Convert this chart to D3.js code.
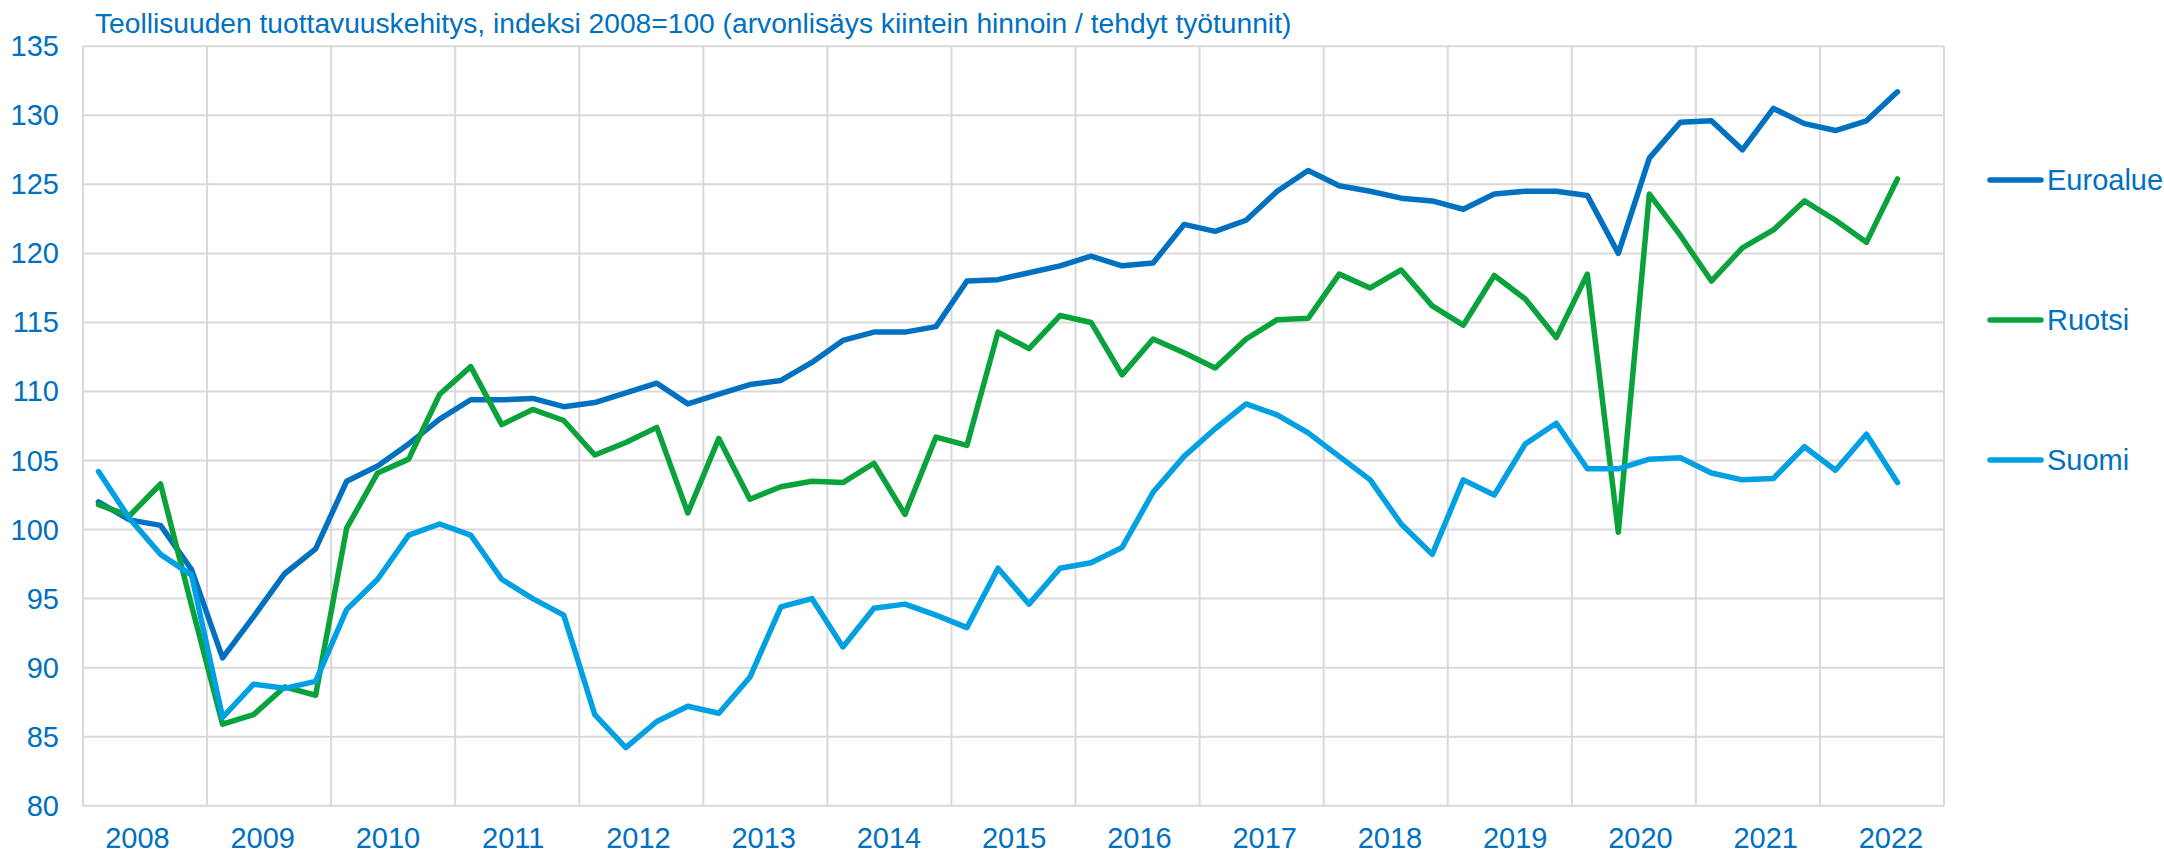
<!DOCTYPE html>
<html>
<head>
<meta charset="utf-8">
<script src="https://cdn.jsdelivr.net/npm/d3@7"></script>
<style>
  html, body { margin: 0; padding: 0; background: #ffffff; }
  svg { display: block; }
  text { font-family: "Liberation Sans", Arial, sans-serif; fill: #0070C0; }
</style>
</head>
<body>
<svg id="chart" width="2164" height="853"></svg>
<script>
const titleText = "Teollisuuden tuottavuuskehitys, indeksi 2008=100 (arvonlisäys kiintein hinnoin / tehdyt työtunnit)";
const years = ["2008","2009","2010","2011","2012","2013","2014","2015","2016","2017","2018","2019","2020","2021","2022"];
const quarters = ["Q1","Q2","Q3","Q4"];
const categories = years.flatMap(y => quarters.map(q => y + q));
const yTicks = [80, 85, 90, 95, 100, 105, 110, 115, 120, 125, 130, 135];
const seriesNames = ["Euroalue", "Ruotsi", "Suomi"];
const seriesColors = ["#0070C0", "#0AA23A", "#00A0E2"];

const euroalue = [
  102.0, 100.7, 100.3, 97.1,
  90.7, 93.7, 96.8, 98.6,
  103.5, 104.6, 106.2, 108.0,
  109.4, 109.4, 109.5, 108.9,
  109.2, 109.9, 110.6, 109.1,
  109.8, 110.5, 110.8, 112.1,
  113.7, 114.3, 114.3, 114.7,
  118.0, 118.1, 118.6, 119.1,
  119.8, 119.1, 119.3, 122.1,
  121.6, 122.4, 124.5, 126.0,
  124.9, 124.5, 124.0, 123.8,
  123.2, 124.3, 124.5, 124.5,
  124.2, 120.0, 126.9, 129.5,
  129.6, 127.5, 130.5, 129.4,
  128.9, 129.6, 131.7, null
];
const ruotsi = [
  101.8, 101.0, 103.3, 94.5,
  85.9, 86.6, 88.6, 88.0,
  100.1, 104.1, 105.1, 109.8,
  111.8, 107.6, 108.7, 107.9,
  105.4, 106.3, 107.4, 101.2,
  106.6, 102.2, 103.1, 103.5,
  103.4, 104.8, 101.1, 106.7,
  106.1, 114.3, 113.1, 115.5,
  115.0, 111.2, 113.8, 112.8,
  111.7, 113.8, 115.2, 115.3,
  118.5, 117.5, 118.8, 116.2,
  114.8, 118.4, 116.7, 113.9,
  118.5, 99.8, 124.3, 121.3,
  118.0, 120.4, 121.7, 123.8,
  122.4, 120.8, 125.4, null
];
const suomi = [
  104.2, 100.8, 98.2, 96.7,
  86.4, 88.8, 88.5, 89.0,
  94.2, 96.4, 99.6, 100.4,
  99.6, 96.4, 95.0, 93.8,
  86.6, 84.2, 86.1, 87.2,
  86.7, 89.3, 94.4, 95.0,
  91.5, 94.3, 94.6, 93.8,
  92.9, 97.2, 94.6, 97.2,
  97.6, 98.7, 102.7, 105.3,
  107.3, 109.1, 108.3, 107.0,
  105.3, 103.6, 100.4, 98.2,
  103.6, 102.5, 106.2, 107.7,
  104.4, 104.4, 105.1, 105.2,
  104.1, 103.6, 103.7, 106.0,
  104.3, 106.9, 103.4, null
];
const seriesValues = [euroalue, ruotsi, suomi];

const svg = d3.select("#chart");
const plot = { left: 83, right: 1944, top: 46.3, bottom: 805.7 };
const gridColor = "#D9D9D9";

const x = d3.scaleBand().domain(categories).range([plot.left, plot.right]).paddingInner(0).paddingOuter(0);
const xYear = d3.scaleBand().domain(years).range([plot.left, plot.right]);
const xLabel = d3.scalePoint().domain(years).range([137.5, 1891]);
const y = d3.scaleLinear().domain([80, 135]).range([plot.bottom, plot.top]);

// horizontal gridlines
svg.append("g").selectAll("line").data(yTicks).join("line")
  .attr("x1", plot.left).attr("x2", plot.right)
  .attr("y1", d => y(d)).attr("y2", d => y(d))
  .attr("stroke", gridColor).attr("stroke-width", 2);

// vertical gridlines at year boundaries (including both plot edges)
const boundaries = years.map(yr => xYear(yr)).concat([plot.right]);
svg.append("g").selectAll("line").data(boundaries).join("line")
  .attr("x1", d => d).attr("x2", d => d)
  .attr("y1", plot.top).attr("y2", plot.bottom)
  .attr("stroke", gridColor).attr("stroke-width", 2);

// y tick labels
svg.append("g").selectAll("text").data(yTicks).join("text")
  .attr("x", 59).attr("y", d => y(d))
  .attr("text-anchor", "end").attr("dominant-baseline", "central")
  .attr("font-size", 29)
  .text(d => d);

// x labels
svg.append("g").selectAll("text").data(years).join("text")
  .attr("x", d => xLabel(d)).attr("y", 848)
  .attr("text-anchor", "middle")
  .attr("font-size", 29)
  .text(d => d);

// title
svg.append("text")
  .attr("x", 95).attr("y", 33.3)
  .attr("font-size", 28.2)
  .text(titleText);

// lines
const line = d3.line()
  .defined(d => d.v !== null)
  .x(d => x(d.c) + x.bandwidth() / 2)
  .y(d => y(d.v));

seriesValues.forEach((vals, i) => {
  const pts = categories.map((c, k) => ({ c: c, v: vals[k] }));
  svg.append("path")
    .datum(pts)
    .attr("d", line)
    .attr("fill", "none")
    .attr("stroke", seriesColors[i])
    .attr("stroke-width", 5.5)
    .attr("stroke-linejoin", "round")
    .attr("stroke-linecap", "round");
});

// legend
const legendY = [180, 320, 460];
const lg = svg.append("g").selectAll("g").data(seriesNames).join("g")
  .attr("transform", (d, i) => `translate(0,${legendY[i]})`);
lg.append("line")
  .attr("x1", 1990).attr("x2", 2041).attr("y1", 0).attr("y2", 0)
  .attr("stroke", (d, i) => seriesColors[i])
  .attr("stroke-width", 5.5)
  .attr("stroke-linecap", "round");
lg.append("text")
  .attr("x", 2047).attr("y", 0)
  .attr("dominant-baseline", "central")
  .attr("font-size", 29)
  .text(d => d);
</script>
</body>
</html>
